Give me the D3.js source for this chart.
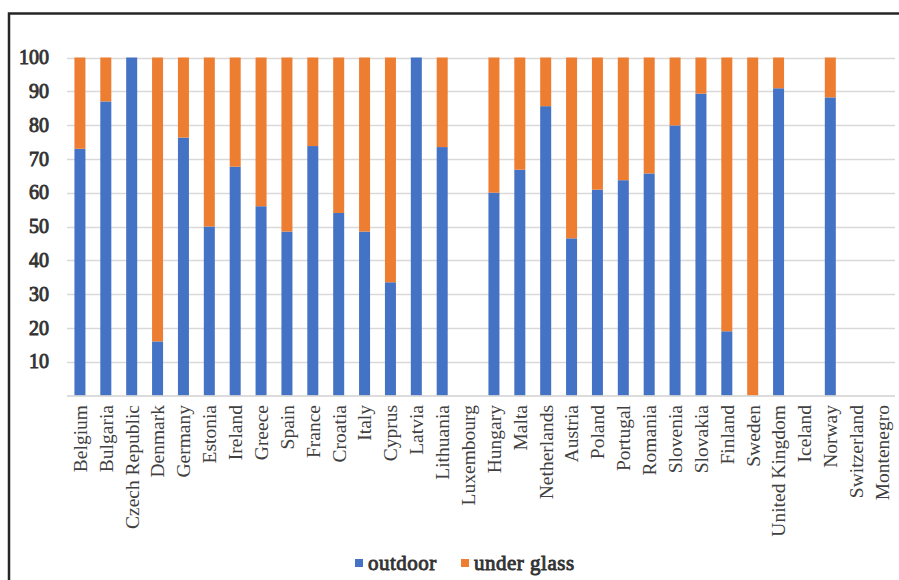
<!DOCTYPE html>
<html>
<head>
<meta charset="utf-8">
<script src="https://cdn.jsdelivr.net/npm/d3@7/dist/d3.min.js"></script>
<style>
  html, body { margin: 0; padding: 0; background: #fff; }
  svg { display: block; }
  text { font-family: "Liberation Serif", "Times New Roman", Times, serif; }
  .heavy { stroke-width: 0.9px; paint-order: stroke; }
</style>
</head>
<body>
<svg id="chart" width="899" height="580"></svg>
<script>
// Share of area (%) grown outdoor vs under glass, by country
const countries = ["Belgium", "Bulgaria", "Czech Republic", "Denmark", "Germany", "Estonia", "Ireland",
  "Greece", "Spain", "France", "Croatia", "Italy", "Cyprus", "Latvia", "Lithuania", "Luxembourg",
  "Hungary", "Malta", "Netherlands", "Austria", "Poland", "Portugal", "Romania", "Slovenia",
  "Slovakia", "Finland", "Sweden", "United Kingdom", "Iceland", "Norway", "Switzerland", "Montenegro"];
const outdoor = [73, 87, 100, 16, 76.3, 50, 67.7, 56, 48.5, 73.8, 54, 48.5, 33.5, 100, 73.5, null,
  60, 66.8, 85.6, 46.5, 60.9, 63.7, 65.7, 79.9, 89.3, 19, 0, 90.9, null, 88.2, null, null];
const underGlass = [27, 13, 0, 84, 23.7, 50, 32.3, 44, 51.5, 26.2, 46, 51.5, 66.5, 0, 26.5, null,
  40, 33.2, 14.4, 53.5, 39.1, 36.3, 34.3, 20.1, 10.7, 81, 100, 9.1, null, 11.8, null, null];
const yTicks = [10, 20, 30, 40, 50, 60, 70, 80, 90, 100];
const seriesNames = ["outdoor", "under glass"];
const seriesColors = ["#4472C4", "#ED7D31"];

const rows = countries.map((c, i) => ({
  country: c,
  "outdoor": outdoor[i] == null ? 0 : outdoor[i],
  "under glass": underGlass[i] == null ? 0 : underGlass[i]
}));

const svg = d3.select("#chart");

// outer frame
svg.append("path")
  .attr("d", "M9,580 V13.5 H899")
  .attr("fill", "none")
  .attr("stroke", "#262626")
  .attr("stroke-width", 2.5);

const x = d3.scaleBand()
  .domain(countries)
  .range([67, 895])
  .paddingInner(0.575)
  .paddingOuter(0.2875);

const y = d3.scaleLinear().domain([0, 100]).range([395.5, 57.5]);

// gridlines
svg.append("g")
  .selectAll("line")
  .data(yTicks)
  .join("line")
  .attr("x1", 67).attr("x2", 895)
  .attr("y1", d => Math.round(y(d)) + 0.5)
  .attr("y2", d => Math.round(y(d)) + 0.5)
  .attr("stroke", "#d9d9d9")
  .attr("stroke-width", 1.3);

// y tick labels (serif, thickened)
svg.append("g")
  .selectAll("text")
  .data(yTicks)
  .join("text")
  .attr("class", "heavy")
  .attr("x", 49)
  .attr("y", d => y(d))
  .attr("dy", "0.33em")
  .attr("text-anchor", "end")
  .attr("font-size", 20)
  .attr("fill", "#333")
  .attr("stroke", "#333")
  .text(d => d);

// stacked bars
const stack = d3.stack().keys(seriesNames)(rows);
const color = d3.scaleOrdinal().domain(seriesNames).range(seriesColors);

svg.append("g")
  .selectAll("g")
  .data(stack)
  .join("g")
  .attr("fill", d => color(d.key))
  .selectAll("rect")
  .data(d => d)
  .join("rect")
  .attr("x", d => x(d.data.country))
  .attr("width", x.bandwidth())
  .attr("y", d => y(d[1]))
  .attr("height", d => y(d[0]) - y(d[1]));

// category axis line
svg.append("line")
  .attr("x1", 67).attr("x2", 895)
  .attr("y1", 396).attr("y2", 396)
  .attr("stroke", "#d0d0d0")
  .attr("stroke-width", 1.3);

// category labels
svg.append("g")
  .selectAll("text")
  .data(countries)
  .join("text")
  .attr("transform", d => `translate(${x(d) + x.bandwidth() / 2},405) rotate(-90)`)
  .attr("dy", "0.35em")
  .attr("text-anchor", "end")
  .attr("font-size", 19.5)
  .attr("fill", "#404040")
  .text(d => d);

// legend
const legendItems = [
  { name: seriesNames[0], color: seriesColors[0], x: 355 },
  { name: seriesNames[1], color: seriesColors[1], x: 461 }
];
const lg = svg.append("g");
lg.selectAll("rect")
  .data(legendItems)
  .join("rect")
  .attr("x", d => d.x).attr("y", 559)
  .attr("width", 8).attr("height", 8)
  .attr("fill", d => d.color);
lg.selectAll("text")
  .data(legendItems)
  .join("text")
  .attr("class", "heavy")
  .attr("x", d => d.x + 13)
  .attr("y", 570)
  .attr("font-size", 21)
  .attr("letter-spacing", 0.5)
  .attr("fill", "#333")
  .attr("stroke", "#333")
  .text(d => d.name);
</script>
</body>
</html>
